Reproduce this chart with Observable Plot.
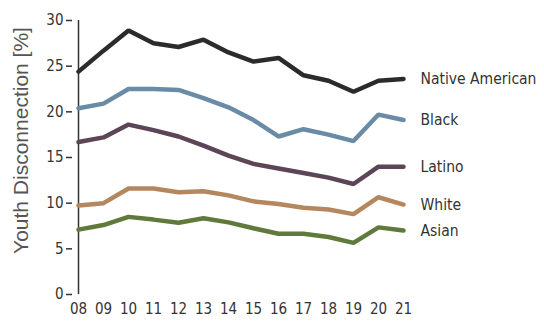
<!DOCTYPE html>
<html>
<head>
<meta charset="utf-8">
<script src="https://cdn.jsdelivr.net/npm/d3@7"></script>
<script src="https://cdn.jsdelivr.net/npm/@observablehq/plot@0.6"></script>
<style>
  html, body { margin: 0; padding: 0; background: #fff; }
</style>
</head>
<body>
<div id="chart"></div>
<script>
const years = ["08","09","10","11","12","13","14","15","16","17","18","19","20","21"];
const seriesNames = ["Native American", "Black", "Latino", "White", "Asian"];
const nativeAmerican = [24.4, 26.7, 28.9, 27.5, 27.1, 27.9, 26.5, 25.5, 25.9, 24.0, 23.4, 22.2, 23.4, 23.6];
const black          = [20.4, 20.9, 22.5, 22.5, 22.4, 21.5, 20.5, 19.1, 17.3, 18.1, 17.5, 16.8, 19.7, 19.1];
const latino         = [16.7, 17.2, 18.6, 18.0, 17.3, 16.3, 15.2, 14.3, 13.8, 13.3, 12.8, 12.1, 14.0, 14.0];
const white          = [9.75, 10.0, 11.6, 11.6, 11.2, 11.3, 10.85, 10.2, 9.9, 9.5, 9.3, 8.8, 10.65, 9.85];
const asian          = [7.1, 7.6, 8.5, 8.2, 7.85, 8.35, 7.9, 7.25, 6.65, 6.65, 6.3, 5.65, 7.35, 7.0];
const seriesColors = ["#2b2b2b", "#6a8ba6", "#5b4557", "#b4875f", "#5f7a3b"];
const yTicks = [0, 5, 10, 15, 20, 25, 30];
const yLabel = "Youth Disconnection [%]";

const allValues = [nativeAmerican, black, latino, white, asian];
const data = [];
seriesNames.forEach((name, i) => {
  years.forEach((yr, j) => data.push({series: name, year: yr, value: allValues[i][j]}));
});

const chart = Plot.plot({
  width: 544,
  height: 325,
  marginLeft: 72,
  marginRight: 136,
  marginTop: 20,
  marginBottom: 31,
  style: {
    fontFamily: "'DejaVu Sans Condensed', 'DejaVu Sans', sans-serif",
    fontSize: "15px",
    color: "#333",
    background: "#fff"
  },
  x: {type: "point", domain: years, padding: 0, label: null},
  y: {domain: [0, 30], label: null},
  color: {domain: seriesNames, range: seriesColors},
  marks: [
    Plot.axisY({ticks: yTicks, tickSize: 6, tickPadding: 3, label: null, stroke: "#333", strokeWidth: 1.5, fontSize: 15}),
    Plot.axisX({tickSize: 0, tickPadding: 9, label: null, fontSize: 15}),
    Plot.ruleX([years[0]], {y1: yTicks[0], y2: yTicks[yTicks.length - 1], stroke: "#333", strokeWidth: 1.5}),
    Plot.line(data, {x: "year", y: "value", z: "series", stroke: "series", strokeWidth: 4.5, strokeLinejoin: "miter"}),
    Plot.text(data, Plot.selectLast({x: "year", y: "value", z: "series", text: "series", textAnchor: "start", dx: 17, fontSize: 15.5, fill: "#333"})),
    Plot.text([yLabel], {frameAnchor: "left", textAnchor: "middle", rotate: -90, dx: -51, dy: -17, fontSize: 21, fill: "#555", fontFamily: "'Liberation Sans', sans-serif"})
  ]
});
document.getElementById("chart").appendChild(chart);
</script>
</body>
</html>
